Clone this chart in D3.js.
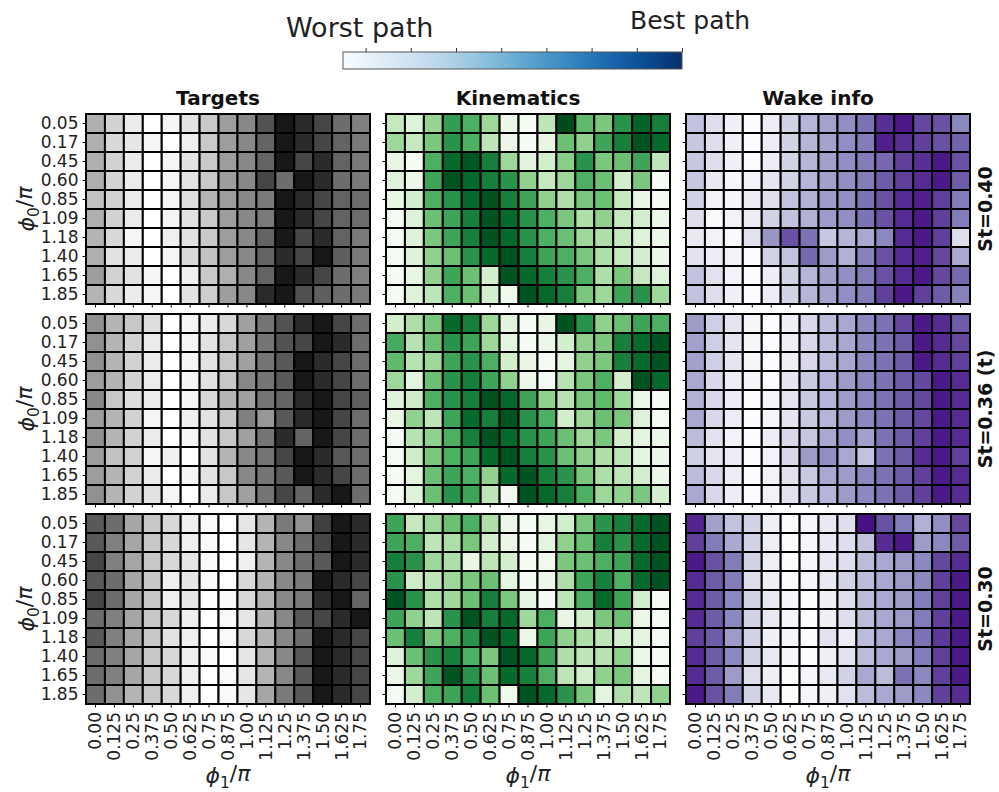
<!DOCTYPE html>
<html>
<head>
<meta charset="utf-8">
<script src="https://cdn.jsdelivr.net/npm/d3@7"></script>
<style>
  body { margin: 0; background: #fff; }
  svg { font-family: "DejaVu Sans", sans-serif; }
</style>
</head>
<body>
<div id="chart"></div>
<script>
// phi_0 / pi (rows) and phi_1 / pi (columns)
const phi0Labels = ["0.05", "0.17", "0.45", "0.60", "0.85", "1.09", "1.18", "1.40", "1.65", "1.85"]
const phi1Labels = ["0.00", "0.125", "0.25", "0.375", "0.50", "0.625", "0.75", "0.875", "1.00",
  "1.125", "1.25", "1.375", "1.50", "1.625", "1.75"]
const panelTitles = ["Targets", "Kinematics", "Wake info"]
const rowTitles = ["St=0.40", "St=0.36 (t)", "St=0.30"]
const colorbarTicks = [0.3, 0.4, 0.5, 0.6, 0.7, 0.8, 0.9, 1.0]

// normalised path scores, 0 = worst, 1 = best
const targets040 = [
  [0.42, 0.28, 0.15, 0.0, 0.08, 0.2, 0.32, 0.48, 0.55, 0.74, 0.92, 0.86, 0.78, 0.65, 0.58],
  [0.42, 0.25, 0.18, 0.08, 0.0, 0.12, 0.32, 0.48, 0.55, 0.68, 0.92, 0.86, 0.78, 0.68, 0.6],
  [0.42, 0.28, 0.15, 0.0, 0.08, 0.2, 0.32, 0.48, 0.55, 0.68, 0.92, 0.78, 0.86, 0.68, 0.6],
  [0.42, 0.28, 0.15, 0.0, 0.08, 0.2, 0.32, 0.48, 0.55, 0.78, 0.65, 0.92, 0.86, 0.65, 0.6],
  [0.35, 0.28, 0.15, 0.0, 0.08, 0.22, 0.4, 0.48, 0.55, 0.6, 0.92, 0.86, 0.78, 0.68, 0.65],
  [0.42, 0.28, 0.15, 0.0, 0.08, 0.2, 0.32, 0.48, 0.55, 0.6, 0.92, 0.86, 0.78, 0.68, 0.65],
  [0.4, 0.25, 0.08, 0.0, 0.12, 0.2, 0.32, 0.48, 0.55, 0.68, 0.92, 0.78, 0.86, 0.68, 0.6],
  [0.42, 0.2, 0.15, 0.0, 0.08, 0.25, 0.35, 0.48, 0.55, 0.68, 0.86, 0.78, 0.92, 0.7, 0.6],
  [0.48, 0.28, 0.2, 0.08, 0.0, 0.12, 0.32, 0.42, 0.55, 0.68, 0.92, 0.86, 0.78, 0.65, 0.58],
  [0.4, 0.25, 0.15, 0.08, 0.0, 0.2, 0.3, 0.48, 0.55, 0.86, 0.92, 0.75, 0.7, 0.65, 0.6]
]
const kinematics040 = [
  [0.25, 0.15, 0.4, 0.68, 0.6, 0.38, 0.08, 0.02, 0.28, 0.98, 0.55, 0.48, 0.72, 0.9, 0.8],
  [0.38, 0.25, 0.48, 0.72, 0.6, 0.28, 0.08, 0.02, 0.1, 0.52, 0.42, 0.65, 0.8, 0.95, 0.88],
  [0.1, 0.02, 0.6, 0.88, 0.94, 0.8, 0.38, 0.13, 0.2, 0.44, 0.72, 0.48, 0.52, 0.65, 0.28],
  [0.15, 0.08, 0.65, 0.95, 0.88, 0.8, 0.72, 0.42, 0.25, 0.38, 0.6, 0.52, 0.2, 0.48, 0.02],
  [0.1, 0.2, 0.6, 0.72, 0.88, 0.95, 0.8, 0.65, 0.42, 0.33, 0.48, 0.52, 0.25, 0.1, 0.02],
  [0.02, 0.15, 0.52, 0.65, 0.8, 0.95, 0.88, 0.72, 0.6, 0.48, 0.33, 0.42, 0.25, 0.2, 0.08],
  [0.02, 0.15, 0.48, 0.65, 0.8, 0.95, 0.88, 0.72, 0.6, 0.52, 0.38, 0.33, 0.25, 0.15, 0.08],
  [0.02, 0.15, 0.42, 0.52, 0.72, 0.88, 0.95, 0.8, 0.65, 0.6, 0.48, 0.33, 0.25, 0.2, 0.08],
  [0.02, 0.1, 0.42, 0.65, 0.52, 0.2, 0.95, 0.88, 0.8, 0.72, 0.6, 0.33, 0.48, 0.25, 0.15],
  [0.02, 0.15, 0.28, 0.6, 0.52, 0.2, 0.05, 0.95, 0.88, 0.8, 0.48, 0.38, 0.65, 0.72, 0.38]
]
const wake040 = [
  [0.35, 0.22, 0.1, 0.0, 0.12, 0.28, 0.4, 0.47, 0.55, 0.65, 0.85, 0.92, 0.78, 0.75, 0.58],
  [0.33, 0.22, 0.1, 0.0, 0.12, 0.28, 0.4, 0.47, 0.55, 0.62, 0.9, 0.85, 0.8, 0.75, 0.7],
  [0.33, 0.22, 0.1, 0.0, 0.12, 0.28, 0.4, 0.48, 0.55, 0.62, 0.68, 0.8, 0.85, 0.92, 0.75],
  [0.33, 0.15, 0.05, 0.08, 0.18, 0.28, 0.4, 0.48, 0.55, 0.62, 0.72, 0.8, 0.86, 0.92, 0.72],
  [0.28, 0.08, 0.05, 0.12, 0.22, 0.35, 0.42, 0.5, 0.55, 0.65, 0.75, 0.86, 0.9, 0.8, 0.62],
  [0.22, 0.02, 0.08, 0.12, 0.28, 0.35, 0.42, 0.5, 0.55, 0.65, 0.75, 0.86, 0.92, 0.8, 0.62],
  [0.15, 0.08, 0.02, 0.2, 0.52, 0.75, 0.65, 0.33, 0.4, 0.45, 0.58, 0.86, 0.92, 0.8, 0.22],
  [0.2, 0.12, 0.08, 0.0, 0.28, 0.35, 0.68, 0.5, 0.42, 0.6, 0.75, 0.86, 0.9, 0.78, 0.45],
  [0.35, 0.2, 0.08, 0.0, 0.12, 0.28, 0.4, 0.48, 0.55, 0.62, 0.75, 0.86, 0.92, 0.78, 0.68],
  [0.35, 0.22, 0.1, 0.0, 0.12, 0.28, 0.4, 0.47, 0.55, 0.62, 0.8, 0.92, 0.8, 0.72, 0.6]
]
const targets036 = [
  [0.52, 0.4, 0.33, 0.22, 0.0, 0.08, 0.14, 0.25, 0.47, 0.62, 0.74, 0.86, 0.92, 0.78, 0.65],
  [0.52, 0.4, 0.28, 0.15, 0.0, 0.08, 0.2, 0.33, 0.47, 0.62, 0.74, 0.78, 0.92, 0.86, 0.65],
  [0.52, 0.4, 0.28, 0.15, 0.0, 0.08, 0.2, 0.33, 0.47, 0.62, 0.72, 0.92, 0.86, 0.78, 0.65],
  [0.48, 0.4, 0.28, 0.15, 0.0, 0.08, 0.2, 0.33, 0.55, 0.62, 0.72, 0.92, 0.86, 0.78, 0.65],
  [0.55, 0.33, 0.22, 0.15, 0.0, 0.08, 0.25, 0.4, 0.47, 0.62, 0.68, 0.86, 0.92, 0.78, 0.7],
  [0.48, 0.4, 0.28, 0.08, 0.0, 0.12, 0.2, 0.33, 0.58, 0.5, 0.72, 0.86, 0.92, 0.78, 0.65],
  [0.52, 0.4, 0.28, 0.15, 0.0, 0.08, 0.2, 0.33, 0.47, 0.62, 0.86, 0.68, 0.92, 0.78, 0.65],
  [0.48, 0.35, 0.28, 0.08, 0.12, 0.0, 0.2, 0.4, 0.55, 0.62, 0.78, 0.92, 0.86, 0.72, 0.65],
  [0.48, 0.4, 0.28, 0.15, 0.0, 0.08, 0.2, 0.33, 0.55, 0.62, 0.72, 0.92, 0.86, 0.78, 0.65],
  [0.52, 0.4, 0.28, 0.2, 0.08, 0.0, 0.15, 0.33, 0.47, 0.62, 0.78, 0.68, 0.86, 0.92, 0.65]
]
const kinematics036 = [
  [0.2, 0.33, 0.48, 0.88, 0.8, 0.38, 0.13, 0.02, 0.1, 0.95, 0.72, 0.42, 0.52, 0.65, 0.6],
  [0.62, 0.3, 0.52, 0.72, 0.65, 0.38, 0.12, 0.02, 0.08, 0.2, 0.42, 0.48, 0.8, 0.88, 0.95],
  [0.55, 0.3, 0.38, 0.65, 0.72, 0.6, 0.2, 0.1, 0.02, 0.12, 0.42, 0.48, 0.8, 0.88, 0.95],
  [0.38, 0.12, 0.52, 0.72, 0.8, 0.65, 0.42, 0.08, 0.02, 0.3, 0.48, 0.6, 0.2, 0.95, 0.88],
  [0.15, 0.22, 0.6, 0.72, 0.8, 0.95, 0.88, 0.65, 0.42, 0.3, 0.48, 0.55, 0.38, 0.08, 0.02],
  [0.1, 0.42, 0.28, 0.65, 0.88, 0.8, 0.95, 0.72, 0.6, 0.2, 0.38, 0.52, 0.48, 0.15, 0.02],
  [0.02, 0.3, 0.42, 0.6, 0.8, 0.95, 0.88, 0.72, 0.65, 0.52, 0.38, 0.48, 0.2, 0.12, 0.08],
  [0.02, 0.22, 0.48, 0.6, 0.65, 0.88, 0.95, 0.8, 0.72, 0.52, 0.42, 0.33, 0.28, 0.12, 0.08],
  [0.02, 0.12, 0.52, 0.65, 0.6, 0.42, 0.88, 0.95, 0.8, 0.72, 0.48, 0.33, 0.28, 0.2, 0.08],
  [0.02, 0.15, 0.52, 0.72, 0.65, 0.28, 0.05, 0.95, 0.88, 0.8, 0.6, 0.38, 0.42, 0.48, 0.2]
]
const wake036 = [
  [0.5, 0.3, 0.18, 0.05, 0.0, 0.1, 0.25, 0.38, 0.45, 0.58, 0.65, 0.78, 0.92, 0.86, 0.72],
  [0.48, 0.3, 0.18, 0.05, 0.0, 0.1, 0.25, 0.38, 0.45, 0.58, 0.65, 0.72, 0.92, 0.86, 0.78],
  [0.48, 0.3, 0.18, 0.05, 0.0, 0.1, 0.25, 0.38, 0.45, 0.58, 0.65, 0.72, 0.92, 0.86, 0.8],
  [0.45, 0.25, 0.12, 0.05, 0.0, 0.18, 0.32, 0.4, 0.5, 0.58, 0.65, 0.72, 0.78, 0.92, 0.86],
  [0.42, 0.25, 0.12, 0.0, 0.05, 0.18, 0.32, 0.4, 0.5, 0.58, 0.65, 0.72, 0.78, 0.92, 0.86],
  [0.45, 0.25, 0.12, 0.0, 0.05, 0.18, 0.32, 0.4, 0.5, 0.58, 0.65, 0.72, 0.78, 0.92, 0.86],
  [0.38, 0.2, 0.08, 0.0, 0.12, 0.25, 0.33, 0.45, 0.55, 0.48, 0.65, 0.72, 0.8, 0.92, 0.86],
  [0.3, 0.18, 0.12, 0.0, 0.08, 0.25, 0.5, 0.55, 0.45, 0.35, 0.65, 0.72, 0.86, 0.92, 0.8],
  [0.38, 0.25, 0.12, 0.0, 0.08, 0.2, 0.32, 0.45, 0.5, 0.58, 0.65, 0.72, 0.8, 0.92, 0.86],
  [0.45, 0.25, 0.12, 0.0, 0.08, 0.2, 0.32, 0.4, 0.5, 0.58, 0.65, 0.72, 0.8, 0.92, 0.86]
]
const targets030 = [
  [0.72, 0.65, 0.45, 0.33, 0.25, 0.12, 0.05, 0.0, 0.18, 0.4, 0.6, 0.52, 0.8, 0.92, 0.86],
  [0.72, 0.58, 0.45, 0.33, 0.25, 0.12, 0.05, 0.0, 0.18, 0.4, 0.55, 0.65, 0.78, 0.92, 0.86],
  [0.78, 0.58, 0.45, 0.33, 0.25, 0.18, 0.05, 0.0, 0.12, 0.4, 0.55, 0.65, 0.72, 0.92, 0.86],
  [0.72, 0.65, 0.45, 0.33, 0.12, 0.18, 0.05, 0.0, 0.25, 0.4, 0.55, 0.6, 0.92, 0.86, 0.78],
  [0.78, 0.65, 0.45, 0.33, 0.12, 0.18, 0.0, 0.05, 0.25, 0.4, 0.55, 0.6, 0.86, 0.92, 0.68],
  [0.65, 0.58, 0.45, 0.33, 0.25, 0.12, 0.0, 0.05, 0.18, 0.4, 0.55, 0.72, 0.78, 0.86, 0.92],
  [0.72, 0.58, 0.45, 0.33, 0.2, 0.12, 0.0, 0.05, 0.25, 0.4, 0.55, 0.65, 0.92, 0.86, 0.78],
  [0.65, 0.58, 0.45, 0.33, 0.25, 0.12, 0.05, 0.0, 0.18, 0.4, 0.55, 0.72, 0.92, 0.86, 0.78],
  [0.65, 0.58, 0.45, 0.33, 0.25, 0.12, 0.0, 0.05, 0.18, 0.4, 0.55, 0.72, 0.92, 0.86, 0.78],
  [0.65, 0.52, 0.4, 0.33, 0.25, 0.12, 0.0, 0.05, 0.18, 0.45, 0.6, 0.72, 0.92, 0.86, 0.78]
]
const kinematics030 = [
  [0.65, 0.25, 0.38, 0.52, 0.6, 0.33, 0.08, 0.02, 0.1, 0.2, 0.48, 0.72, 0.8, 0.88, 0.95],
  [0.65, 0.6, 0.28, 0.33, 0.48, 0.2, 0.08, 0.02, 0.12, 0.42, 0.52, 0.8, 0.72, 0.88, 0.95],
  [0.8, 0.72, 0.38, 0.33, 0.1, 0.28, 0.2, 0.02, 0.05, 0.48, 0.52, 0.6, 0.65, 0.88, 0.95],
  [0.72, 0.22, 0.28, 0.38, 0.48, 0.52, 0.12, 0.02, 0.08, 0.33, 0.65, 0.8, 0.6, 0.88, 0.95],
  [0.95, 0.72, 0.33, 0.38, 0.52, 0.8, 0.48, 0.12, 0.02, 0.28, 0.6, 0.88, 0.65, 0.2, 0.02],
  [0.65, 0.42, 0.28, 0.72, 0.95, 0.8, 0.88, 0.38, 0.6, 0.1, 0.2, 0.48, 0.52, 0.08, 0.02],
  [0.52, 0.8, 0.48, 0.6, 0.72, 0.95, 0.88, 0.08, 0.65, 0.42, 0.33, 0.28, 0.2, 0.12, 0.02],
  [0.15, 0.52, 0.72, 0.8, 0.6, 0.48, 0.95, 0.88, 0.65, 0.33, 0.28, 0.3, 0.42, 0.08, 0.02],
  [0.08, 0.38, 0.65, 0.95, 0.72, 0.52, 0.88, 0.8, 0.6, 0.28, 0.2, 0.42, 0.48, 0.12, 0.02],
  [0.02, 0.2, 0.6, 0.65, 0.8, 0.52, 0.05, 0.95, 0.88, 0.72, 0.48, 0.12, 0.33, 0.28, 0.42]
]
const wake030 = [
  [0.88, 0.48, 0.35, 0.28, 0.1, 0.0, 0.05, 0.15, 0.22, 0.95, 0.75, 0.62, 0.42, 0.55, 0.78],
  [0.8, 0.62, 0.45, 0.28, 0.1, 0.0, 0.05, 0.15, 0.22, 0.35, 0.86, 0.92, 0.5, 0.58, 0.72],
  [0.92, 0.75, 0.62, 0.28, 0.1, 0.0, 0.05, 0.15, 0.22, 0.38, 0.45, 0.5, 0.58, 0.78, 0.86],
  [0.86, 0.72, 0.62, 0.22, 0.1, 0.0, 0.05, 0.15, 0.28, 0.38, 0.45, 0.5, 0.58, 0.8, 0.92],
  [0.86, 0.72, 0.58, 0.28, 0.15, 0.05, 0.0, 0.1, 0.22, 0.38, 0.45, 0.5, 0.62, 0.8, 0.92],
  [0.86, 0.72, 0.58, 0.28, 0.15, 0.05, 0.0, 0.1, 0.22, 0.38, 0.45, 0.5, 0.62, 0.8, 0.92],
  [0.8, 0.72, 0.5, 0.28, 0.1, 0.05, 0.0, 0.2, 0.12, 0.38, 0.45, 0.58, 0.65, 0.82, 0.92],
  [0.86, 0.72, 0.58, 0.28, 0.15, 0.05, 0.0, 0.1, 0.2, 0.38, 0.45, 0.5, 0.62, 0.8, 0.92],
  [0.86, 0.72, 0.5, 0.22, 0.1, 0.0, 0.05, 0.15, 0.28, 0.45, 0.38, 0.65, 0.58, 0.8, 0.92],
  [0.92, 0.75, 0.62, 0.28, 0.15, 0.0, 0.05, 0.1, 0.2, 0.38, 0.45, 0.5, 0.58, 0.8, 0.86]
]

const grid = [
  [targets040, kinematics040, wake040],
  [targets036, kinematics036, wake036],
  [targets030, kinematics030, wake030]
]
const interpolators = [d3.interpolateGreys, d3.interpolateGreens, d3.interpolatePurples]

const width = 999
const height = 792
const panel = { width: 284, height: 190 }
const panelX = [86, 386, 686]
const panelY = [114, 314, 514]

const svg = d3.select("#chart").append("svg")
  .attr("width", width)
  .attr("height", height)

const xScale = d3.scaleBand().domain(phi1Labels).range([0, panel.width])
const yScale = d3.scaleBand().domain(phi0Labels).range([0, panel.height])

// math-style label: italic phi with subscript, "/", italic pi
function phiLabel(sel, sub) {
  sel.append("tspan").attr("font-style", "italic").text("\u03d5")
  sel.append("tspan").attr("font-size", "0.7em").attr("dy", "0.3em").text(sub)
  sel.append("tspan").attr("dy", "-0.3em").text("/")
  sel.append("tspan").attr("font-style", "italic").text("\u03c0")
}

grid.forEach((row, r) => {
  row.forEach((values, c) => {
    const color = d3.scaleSequential(interpolators[c]).domain([0, 1])
    const g = svg.append("g")
      .attr("transform", `translate(${panelX[c]},${panelY[r]})`)

    const cells = values.flatMap((rowVals, i) =>
      rowVals.map((v, j) => ({ phi0: phi0Labels[i], phi1: phi1Labels[j], v })))

    g.selectAll("rect")
      .data(cells)
      .enter().append("rect")
      .attr("x", d => xScale(d.phi1))
      .attr("y", d => yScale(d.phi0))
      .attr("width", xScale.bandwidth())
      .attr("height", yScale.bandwidth())
      .attr("fill", d => color(d.v))
      .attr("stroke", "#000")
      .attr("stroke-width", 2)

    // ticks on every panel, labels only on outer panels
    const yAxis = d3.axisLeft(yScale).tickSize(3.5).tickPadding(4)
    if (c > 0) yAxis.tickFormat("")
    const yG = g.append("g").call(yAxis)
    yG.select(".domain").remove()
    yG.selectAll("text").attr("font-size", 17).attr("font-family", "DejaVu Sans").attr("fill", "#222")

    const xAxis = d3.axisBottom(xScale).tickSize(3.5).tickPadding(4)
    if (r < 2) xAxis.tickFormat("")
    const xG = g.append("g")
      .attr("transform", `translate(0,${panel.height})`)
      .call(xAxis)
    xG.select(".domain").remove()
    xG.selectAll("text")
      .attr("font-size", 17)
      .attr("font-family", "DejaVu Sans")
      .attr("fill", "#222")
      .attr("transform", "rotate(-90)")
      .attr("text-anchor", "end")
      .attr("x", -8)
      .attr("y", 0)
      .attr("dy", "0.35em")

    if (r === 0) {
      svg.append("text")
        .attr("x", panelX[c] + panel.width / 2 - 10)
        .attr("y", panelY[r] - 9)
        .attr("text-anchor", "middle")
        .attr("font-weight", "bold")
        .attr("font-size", 20)
        .attr("fill", "#111")
        .text(panelTitles[c])
    }
    if (r === 2) {
      svg.append("text")
        .attr("x", panelX[c] + panel.width / 2)
        .attr("y", 783)
        .attr("text-anchor", "middle")
        .attr("font-size", 22)
        .attr("fill", "#222")
        .call(phiLabel, "1")
    }
  })

  svg.append("text")
    .attr("transform", `translate(34,${panelY[r] + panel.height / 2}) rotate(-90)`)
    .attr("text-anchor", "middle")
    .attr("font-size", 22)
    .attr("fill", "#222")
    .call(phiLabel, "0")

  svg.append("text")
    .attr("transform", `translate(992,${panelY[r] + panel.height / 2}) rotate(-90)`)
    .attr("text-anchor", "middle")
    .attr("font-weight", "bold")
    .attr("font-size", 19)
    .attr("fill", "#111")
    .text(rowTitles[r])
})

// colorbar
const cb = { x: 343, y: 52, width: 339, height: 17 }
const cbScale = d3.scaleLinear().domain([0.25, 1]).range([0, cb.width])
const defs = svg.append("defs")
const grad = defs.append("linearGradient").attr("id", "cb-grad")
d3.range(0, 1.0001, 0.05).forEach(t => {
  grad.append("stop")
    .attr("offset", `${t * 100}%`)
    .attr("stop-color", d3.interpolateBlues(t))
})
const cbG = svg.append("g").attr("transform", `translate(${cb.x},${cb.y})`)
cbG.append("rect")
  .attr("width", cb.width)
  .attr("height", cb.height)
  .attr("fill", "url(#cb-grad)")
  .attr("stroke", "#555")
  .attr("stroke-width", 1)
const cbAxis = cbG.append("g")
  .call(d3.axisTop(cbScale).tickValues(colorbarTicks).tickSize(4).tickFormat(""))
cbAxis.select(".domain").remove()
cbAxis.selectAll("line").attr("stroke", "#333")

svg.append("text")
  .attr("x", 286)
  .attr("y", 37)
  .attr("font-size", 27)
  .attr("fill", "#222")
  .text("Worst path")
svg.append("text")
  .attr("x", 630)
  .attr("y", 29)
  .attr("font-size", 25)
  .attr("fill", "#222")
  .text("Best path")
</script>
</body>
</html>
